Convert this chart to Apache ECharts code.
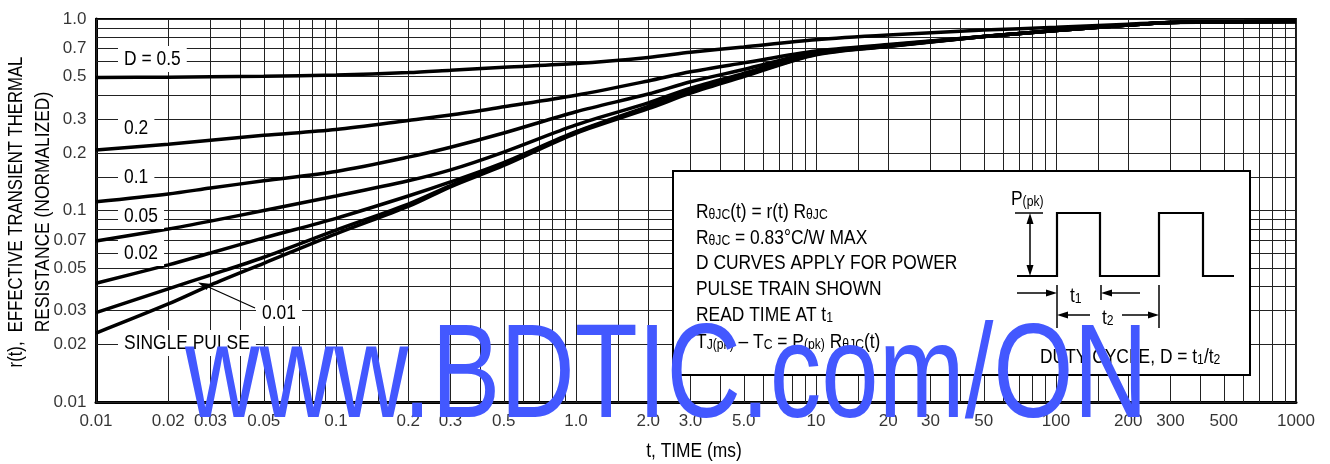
<!DOCTYPE html>
<html>
<head>
<meta charset="utf-8">
<script src="https://cdn.jsdelivr.net/npm/echarts@6/dist/echarts.min.js"></script>
<style>
html, body { margin: 0; padding: 0; background: #fff; }
#chart { width: 1330px; height: 464px; }
</style>
</head>
<body>
<div id="chart"></div>
<script>
var FONT = '"Liberation Sans", Arial, sans-serif';
var NARROW = 0.87;   // squeeze to mimic the condensed face of the original

var tPts = [0.01, 0.02, 0.03, 0.05, 0.1, 0.2, 0.3, 0.5, 1, 2, 3, 5, 10, 20, 50, 100, 200, 300, 1000];

// r(t) for each duty cycle
var d50 = [0.495, 0.497, 0.50, 0.503, 0.51, 0.525, 0.54, 0.56, 0.585, 0.63, 0.67, 0.715, 0.78, 0.825, 0.875, 0.905, 0.94, 0.96, 0.97];
var d20 = [0.207, 0.222, 0.233, 0.247, 0.265, 0.295, 0.315, 0.348, 0.40, 0.475, 0.53, 0.59, 0.68, 0.735, 0.81, 0.87, 0.93, 0.96, 0.97];
var d10 = [0.111, 0.122, 0.131, 0.143, 0.16, 0.19, 0.214, 0.254, 0.328, 0.406, 0.47, 0.545, 0.67, 0.73, 0.81, 0.87, 0.93, 0.96, 0.97];
var d05 = [0.0693, 0.080, 0.088, 0.100, 0.119, 0.143, 0.163, 0.202, 0.28, 0.365, 0.435, 0.52, 0.665, 0.725, 0.81, 0.87, 0.93, 0.96, 0.97];
var d02 = [0.0417, 0.052, 0.060, 0.072, 0.091, 0.119, 0.141, 0.178, 0.258, 0.35, 0.42, 0.51, 0.66, 0.722, 0.81, 0.87, 0.93, 0.96, 0.97];
var d01 = [0.0293, 0.039, 0.046, 0.057, 0.079, 0.108, 0.135, 0.175, 0.256, 0.345, 0.415, 0.505, 0.655, 0.72, 0.81, 0.87, 0.93, 0.96, 0.97];
var single = [0.0229, 0.0325, 0.0408, 0.053, 0.0755, 0.105, 0.133, 0.172, 0.253, 0.34, 0.41, 0.50, 0.65, 0.718, 0.81, 0.87, 0.93, 0.96, 0.97];

// tick labels
var xTickVals = [0.01, 0.02, 0.03, 0.05, 0.1, 0.2, 0.3, 0.5, 1, 2, 3, 5, 10, 20, 30, 50, 100, 200, 300, 500, 1000];
var xTickText = ['0.01', '0.02', '0.03', '0.05', '0.1', '0.2', '0.3', '0.5', '1.0', '2.0', '3.0', '5.0', '10', '20', '30', '50', '100', '200', '300', '500', '1000'];
var yTickVals = [0.01, 0.02, 0.03, 0.05, 0.07, 0.1, 0.2, 0.3, 0.5, 0.7, 1];
var yTickText = ['0.01', '0.02', '0.03', '0.05', '0.07', '0.1', '0.2', '0.3', '0.5', '0.7', '1.0'];

// log paper rulings inside each decade
var gridMults = [1, 1.5, 2, 3, 4, 5, 6, 7, 8, 9];

function rulings(fromExp, toExp) {
    var out = [];
    for (var e = fromExp; e < toExp; e++) {
        for (var i = 0; i < gridMults.length; i++) {
            out.push(parseFloat((gridMults[i] * Math.pow(10, e)).toPrecision(3)));
        }
    }
    out.push(Math.pow(10, toExp));
    return out;
}
var xGrid = rulings(-2, 3);
var yGrid = rulings(-2, 0);

function pts(ys) {
    return tPts.map(function (t, i) { return [t, ys[i]]; });
}

function curve(ys) {
    return {
        type: 'line',
        data: pts(ys),
        smooth: 0.3,
        symbol: 'none',
        silent: true,
        z: 5,
        lineStyle: { color: '#000', width: 3.5 }
    };
}

var rich = {
    n: { fontSize: 20, fontFamily: FONT, lineHeight: 24, verticalAlign: 'bottom', color: '#000' },
    s: { fontSize: 14, fontFamily: FONT, lineHeight: 12, verticalAlign: 'bottom', color: '#000' }
};

function rtext(x, y, text) {
    return {
        type: 'text', x: x, y: y, scaleX: NARROW, z: 30, silent: true,
        style: { text: text, rich: rich, align: 'left', verticalAlign: 'middle', fill: '#000' }
    };
}

function label(x, y, text) {
    return {
        type: 'text', x: x, y: y, scaleX: NARROW, z: 30, silent: true,
        style: {
            text: text, fontSize: 20, fontFamily: FONT, fill: '#000',
            align: 'left', verticalAlign: 'middle',
            backgroundColor: '#fff', padding: [3, 7, 3, 7]
        }
    };
}

function title(x, y, text, rot, sx) {
    return {
        type: 'text', x: x, y: y, rotation: rot || 0, scaleX: sx || NARROW, z: 30, silent: true,
        style: { text: text, fontSize: 20, fontFamily: FONT, fill: '#000', align: 'center', verticalAlign: 'middle' }
    };
}

function seg(x1, y1, x2, y2, w) {
    return {
        type: 'line', z: 30, silent: true,
        shape: { x1: x1, y1: y1, x2: x2, y2: y2 },
        style: { stroke: '#000', lineWidth: w || 1.5 }
    };
}

function head(x, y, dx, dy) {
    var L = 11, W = 3.5;
    return {
        type: 'polygon', z: 31, silent: true,
        shape: { points: [[x, y], [x - dx * L - dy * W, y - dy * L + dx * W], [x - dx * L + dy * W, y - dy * L - dx * W]] },
        style: { fill: '#000' }
    };
}

var chart = echarts.init(document.getElementById('chart'), null, { renderer: 'canvas' });

var option = {
    animation: false,
    backgroundColor: '#fff',
    grid: { left: 96, top: 19, width: 1200, height: 383, show: true, borderColor: '#000', borderWidth: 1.8, backgroundColor: 'transparent' },
    xAxis: {
        type: 'log', logBase: 10, min: 0.01, max: 1000,
        axisLine: { show: true, onZero: false, lineStyle: { color: '#000', width: 3 } },
        axisTick: { show: false }, axisLabel: { show: false }, splitLine: { show: false }
    },
    yAxis: {
        type: 'log', logBase: 10, min: 0.01, max: 1,
        axisLine: { show: true, onZero: false, lineStyle: { color: '#000', width: 3 } },
        axisTick: { show: false }, axisLabel: { show: false }, splitLine: { show: false }
    },
    series: [
        {
            type: 'line', data: [], silent: true, z: 1,
            markLine: {
                silent: true, animation: false, symbol: ['none', 'none'],
                label: { show: false },
                lineStyle: { color: '#222', width: 1, type: 'solid' },
                emphasis: { disabled: true },
                data: xGrid.map(function (v) { return { xAxis: v }; })
                    .concat(yGrid.map(function (v) { return { yAxis: v }; }))
            }
        },
        curve(d50), curve(d20), curve(d10), curve(d05), curve(d02), curve(d01), curve(single),
        {
            type: 'scatter', silent: true, clip: false, symbolSize: 1,
            itemStyle: { color: 'rgba(0,0,0,0)' },
            data: xTickVals.map(function (v) { return [v, 0.01]; }),
            label: {
                show: true, position: 'bottom', distance: 10, color: '#000',
                fontSize: 17, fontFamily: FONT,
                formatter: function (p) { return xTickText[p.dataIndex]; }
            }
        },
        {
            type: 'scatter', silent: true, clip: false, symbolSize: 1,
            itemStyle: { color: 'rgba(0,0,0,0)' },
            data: yTickVals.map(function (v) { return [0.01, v]; }),
            label: {
                show: true, position: 'left', distance: 9, color: '#000',
                fontSize: 17, fontFamily: FONT,
                formatter: function (p) { return yTickText[p.dataIndex]; }
            }
        }
    ],
    graphic: [
        // axis titles
        title(694, 451, 't, TIME (ms)'),
        title(16, 212, 'r(t),  EFFECTIVE TRANSIENT THERMAL', Math.PI / 2, 0.835),
        title(43, 212, 'RESISTANCE (NORMALIZED)', Math.PI / 2),

        // curve labels
        label(118, 59, 'D = 0.5'),
        label(118, 128, '0.2'),
        label(118, 177, '0.1'),
        label(118, 216, '0.05'),
        label(118, 253, '0.02'),
        label(256, 313, '0.01'),
        label(118, 343, 'SINGLE PULSE'),
        seg(255, 308, 204, 285, 1.3),
        head(198, 282.5, -0.917, -0.4),

        // note box
        { type: 'rect', z: 25, silent: true,
          shape: { x: 673, y: 171, width: 577, height: 204 },
          style: { fill: '#fff', stroke: '#000', lineWidth: 2 } },
        rtext(696, 210, '{n|R}{s|θJC}{n|(t) = r(t) R}{s|θJC}'),
        rtext(696, 236, '{n|R}{s|θJC}{n| = 0.83°C/W MAX}'),
        rtext(696, 261, '{n|D CURVES APPLY FOR POWER}'),
        rtext(696, 287, '{n|PULSE TRAIN SHOWN}'),
        rtext(696, 313, '{n|READ TIME AT t}{s|1}'),
        rtext(696, 340, '{n|T}{s|J(pk)}{n| – T}{s|C}{n| = P}{s|(pk)}{n| R}{s|θJC}{n|(t)}'),

        // pulse train sketch
        { type: 'polyline', z: 30, silent: true,
          shape: { points: [[1017, 276], [1057, 276], [1057, 213], [1100, 213], [1100, 276], [1159, 276], [1159, 213], [1203, 213], [1203, 276], [1234, 276]] },
          style: { stroke: '#000', lineWidth: 2.2, fill: null } },
        rtext(1011, 197, '{n|P}{s|(pk)}'),
        seg(1015, 213, 1043, 213, 1.5),
        seg(1030, 220, 1030, 269, 1.5),
        head(1030, 213, 0, -1),
        head(1030, 276, 0, 1),
        seg(1057, 285, 1057, 328, 1.5),
        seg(1101, 285, 1101, 300, 1.5),
        seg(1159, 285, 1159, 328, 1.5),
        seg(1017, 293, 1050, 293, 1.5),
        head(1057, 293, 1, 0),
        seg(1140, 293, 1108, 293, 1.5),
        head(1101, 293, -1, 0),
        rtext(1070, 294, '{n|t}{s|1}'),
        seg(1090, 315, 1064, 315, 1.5),
        head(1057, 315, -1, 0),
        seg(1122, 315, 1152, 315, 1.5),
        head(1159, 315, 1, 0),
        rtext(1102, 316, '{n|t}{s|2}'),
        rtext(1040, 355, '{n|DUTY CYCLE, D = t}{s|1}{n|/t}{s|2}'),

        // watermark
        { type: 'text', x: 185, y: 380, scaleX: 0.77, z: 50, silent: true,
          style: { text: 'www.BDTIC.com/ON', fontSize: 134, fontFamily: FONT, fill: '#4358ff', align: 'left', verticalAlign: 'middle' } }
    ]
};

chart.setOption(option);
</script>
</body>
</html>
